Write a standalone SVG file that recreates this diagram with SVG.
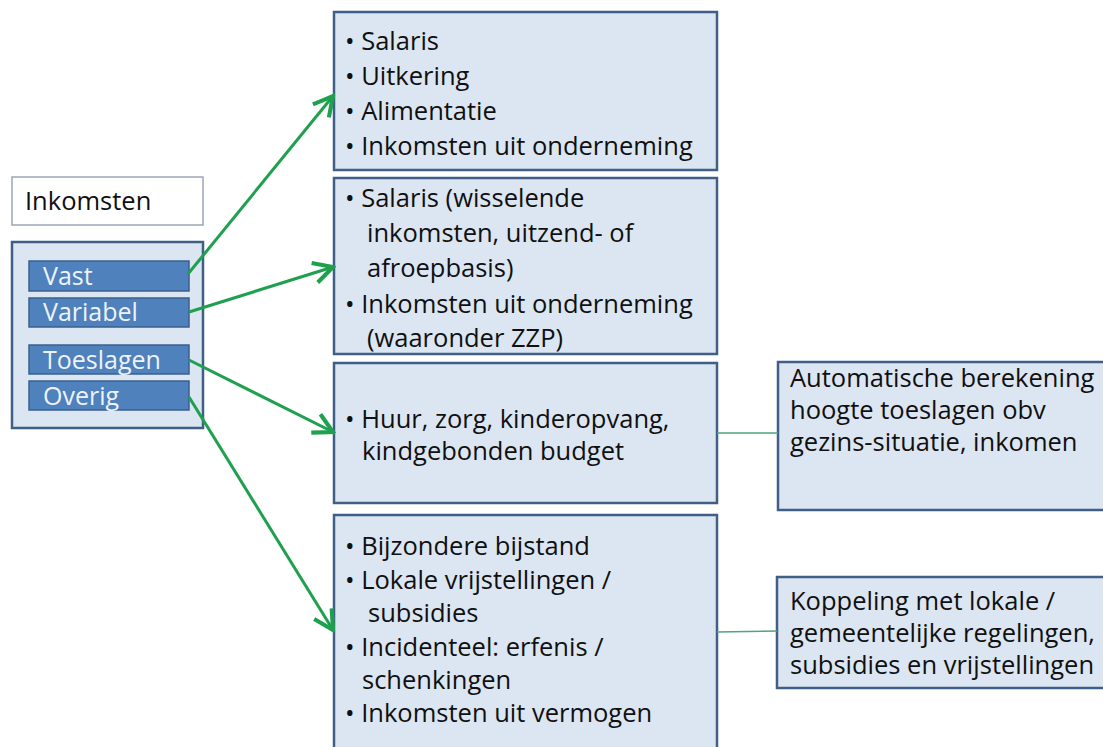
<svg xmlns="http://www.w3.org/2000/svg" width="1103" height="747" viewBox="0 0 1103 747">
  <style>
    .box { fill: #dce6f2; stroke: #3f5f86; stroke-width: 2.5; }
    .label { fill: #ffffff; stroke: #9aa6b6; stroke-width: 1.5; }
    .bar { fill: #4f81bd; stroke: #3a608f; stroke-width: 1.5; }
    .txt { font-family: "Open Sans", "Liberation Sans", sans-serif; font-size: 25.5px; fill: #101010; }
    .bartxt { font-family: "Open Sans", "Liberation Sans", sans-serif; font-size: 25px; fill: #eef3fa; }
    .arrow { stroke: #1ea04e; stroke-width: 3; fill: none; marker-end: url(#open); }
    .link { stroke: #4ea47c; stroke-width: 1.5; fill: none; }
  </style>
  <defs>
    <marker id="open" markerUnits="userSpaceOnUse" markerWidth="26" markerHeight="26" viewBox="-17 -9 19 18" refX="0" refY="0" orient="auto">
      <polyline points="-14,-7.5 0,0 -14,7.5" fill="none" stroke="#1ea04e" stroke-width="3" stroke-linejoin="miter"/>
    </marker>
  </defs>

  <rect width="1103" height="747" fill="#ffffff"/>

  <!-- source column -->
  <g id="title">
    <rect class="label" x="12" y="177" width="191" height="48"/>
    <text class="txt" x="25" y="210">Inkomsten</text>
  </g>
  <g id="categories">
    <rect class="box" x="12" y="242" width="191" height="186"/>
  </g>
  <g id="vast">
    <rect class="bar" x="29" y="261" width="160" height="30"/>
    <text class="bartxt" x="43" y="285">Vast</text>
  </g>
  <g id="variabel">
    <rect class="bar" x="29" y="298" width="160" height="29"/>
    <text class="bartxt" x="43" y="321">Variabel</text>
  </g>
  <g id="toeslagen">
    <rect class="bar" x="29" y="345" width="160" height="29"/>
    <text class="bartxt" x="43" y="369">Toeslagen</text>
  </g>
  <g id="overig">
    <rect class="bar" x="29" y="381" width="160" height="29"/>
    <text class="bartxt" x="43" y="405">Overig</text>
  </g>

  <!-- detail boxes -->
  <g id="vast-detail">
    <rect class="box" x="334" y="12" width="383" height="158"/>
    <text class="txt">
      <tspan x="345" y="50">• Salaris</tspan>
      <tspan x="345" y="85">• Uitkering</tspan>
      <tspan x="345" y="120">• Alimentatie</tspan>
      <tspan x="345" y="155">• Inkomsten uit onderneming</tspan>
    </text>
  </g>
  <g id="variabel-detail">
    <rect class="box" x="334" y="178" width="383" height="176"/>
    <text class="txt">
      <tspan x="345" y="207">• Salaris (wisselende</tspan>
      <tspan x="367" y="242">inkomsten, uitzend- of</tspan>
      <tspan x="367" y="277">afroepbasis)</tspan>
      <tspan x="345" y="313">• Inkomsten uit onderneming</tspan>
      <tspan x="367" y="347">(waaronder ZZP)</tspan>
    </text>
  </g>
  <g id="toeslagen-detail">
    <rect class="box" x="334" y="363" width="383" height="140"/>
    <text class="txt">
      <tspan x="345" y="428">• Huur, zorg, kinderopvang,</tspan>
      <tspan x="362" y="460">kindgebonden budget</tspan>
    </text>
  </g>
  <g id="overig-detail">
    <rect class="box" x="334" y="515" width="383" height="250"/>
    <text class="txt">
      <tspan x="345" y="555">• Bijzondere bijstand</tspan>
      <tspan x="345" y="589">• Lokale vrijstellingen /</tspan>
      <tspan x="368" y="622">subsidies</tspan>
      <tspan x="345" y="656">• Incidenteel: erfenis /</tspan>
      <tspan x="362" y="689">schenkingen</tspan>
      <tspan x="345" y="722">• Inkomsten uit vermogen</tspan>
    </text>
  </g>

  <!-- notes -->
  <g id="toeslagen-note">
    <rect class="box" x="778" y="362" width="340" height="148"/>
    <text class="txt">
      <tspan x="790" y="387">Automatische berekening</tspan>
      <tspan x="790" y="419">hoogte toeslagen obv</tspan>
      <tspan x="790" y="451">gezins-situatie, inkomen</tspan>
    </text>
  </g>
  <g id="overig-note">
    <rect class="box" x="777" y="577" width="340" height="111"/>
    <text class="txt">
      <tspan x="790" y="610">Koppeling met lokale /</tspan>
      <tspan x="790" y="642">gemeentelijke regelingen,</tspan>
      <tspan x="790" y="674">subsidies en vrijstellingen</tspan>
    </text>
  </g>

  <!-- connectors -->
  <g id="connectors">
    <line class="arrow" x1="188" y1="274" x2="333" y2="96"/>
    <line class="arrow" x1="189" y1="312" x2="333" y2="267"/>
    <line class="arrow" x1="189" y1="360" x2="333" y2="432"/>
    <line class="arrow" x1="189" y1="397" x2="333" y2="630"/>
    <line class="link" x1="717" y1="433" x2="778" y2="433"/>
    <line class="link" x1="717" y1="632" x2="777" y2="631"/>
  </g>
</svg>
